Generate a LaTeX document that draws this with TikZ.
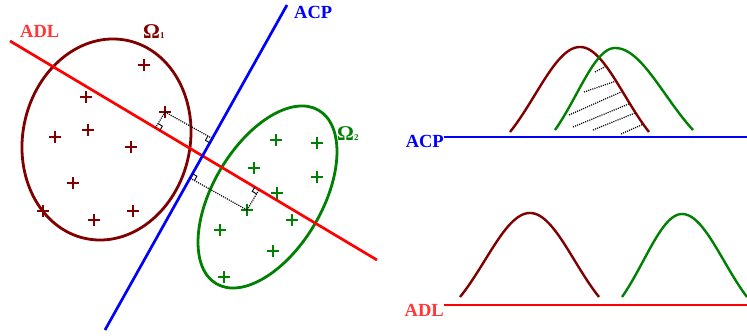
\documentclass[tikz,border=0pt]{standalone}
\usepackage{fontspec}
\setmainfont{Liberation Serif}
\usetikzlibrary{calc}
\definecolor{dkred}{RGB}{128,0,0}
\definecolor{dkgreen}{RGB}{0,128,0}
\definecolor{lblred}{RGB}{255,55,55}
\definecolor{pblue}{RGB}{0,0,255}
\begin{document}
\begin{tikzpicture}[x=1pt,y=-1pt,
  axisline/.style={line width=2.7pt},
  blob/.style={line width=2.8pt},
  bellcurve/.style={line width=2.4pt, line join=round},
  proj/.style={line width=1.2pt, dash pattern=on 1.1pt off 1.1pt},
  hatchline/.style={line width=1.2pt, dash pattern=on 1.1pt off 1.1pt},
  rmark/.style={line width=0.9pt},
  lbl/.style={font=\fontsize{18.5}{18.5}\selectfont\bfseries, inner sep=0pt},
  omlbl/.style={font=\fontsize{21}{21}\selectfont\bfseries, inner sep=0pt},
  plusmark/.style={minimum size=12pt, inner sep=0pt,
    path picture={\draw[line width=2.3pt,#1] (path picture bounding box.north)--(path picture bounding box.south)
      (path picture bounding box.west)--(path picture bounding box.east);}},
  declare function={bell(\ua,\sa,\wa)=(exp(-0.5*((\ua)/(\sa))^2)-exp(-0.5*((\wa)/(\sa))^2))/(1-exp(-0.5*((\wa)/(\sa))^2));}
]
\useasboundingbox (0,0) rectangle (747,336);

% ---------- left part ----------
\draw[blob,dkred,rotate around={78.1:(106.5,139.5)}] (106.5,139.5) ellipse [x radius=101.2pt, y radius=83.7pt];
\draw[blob,dkgreen,rotate around={59.4:(267.5,197)}] (267.5,197) ellipse [x radius=100.7pt, y radius=54.5pt];

\coordinate (adl1) at (10,41);
\coordinate (adl2) at (377,260);
\coordinate (acp1) at (287,5);
\coordinate (acp2) at (105,330);
\draw[axisline,red] (adl1) -- (adl2);
\draw[axisline,pblue] (acp1) -- (acp2);

% plus signs, class 1
\node[plusmark=dkred] (r1) at (144,65) {};
\node[plusmark=dkred] (r2) at (86,97) {};
\node[plusmark=dkred] (r3) at (165,112) {};
\node[plusmark=dkred] (r4) at (88,130) {};
\node[plusmark=dkred] (r5) at (55,137) {};
\node[plusmark=dkred] (r6) at (131,147) {};
\node[plusmark=dkred] (r7) at (73,183) {};
\node[plusmark=dkred] (r8) at (43,211) {};
\node[plusmark=dkred] (r9) at (94,220) {};
\node[plusmark=dkred] (r10) at (133,211) {};
% plus signs, class 2
\node[plusmark=dkgreen] (g1) at (276,140) {};
\node[plusmark=dkgreen] (g2) at (317,143) {};
\node[plusmark=dkgreen] (g3) at (254,168) {};
\node[plusmark=dkgreen] (g4) at (317,177) {};
\node[plusmark=dkgreen] (g5) at (277,193) {};
\node[plusmark=dkgreen] (g6) at (247,210) {};
\node[plusmark=dkgreen] (g7) at (292,220) {};
\node[plusmark=dkgreen] (g8) at (220,230) {};
\node[plusmark=dkgreen] (g9) at (273,251) {};
\node[plusmark=dkgreen] (g10) at (224,277) {};

% projections
\coordinate (fA1) at ($(adl1)!(r3.center)!(adl2)$);
\coordinate (fA2) at ($(acp1)!(r3.center)!(acp2)$);
\coordinate (fB1) at ($(adl1)!(g6.center)!(adl2)$);
\coordinate (fB2) at ($(acp1)!(g6.center)!(acp2)$);
\draw[proj] (r3.center) -- (fA1);
\draw[proj] (r3.center) -- (fA2);
\draw[proj] (g6.center) -- (fB1);
\draw[proj] (g6.center) -- (fB2);
% right-angle marks
\coordinate (mA1a) at ($(fA1)!5pt!(adl2)$);
\coordinate (mA1b) at ($(fA1)!5pt!(r3.center)$);
\draw[rmark] (mA1a) -- ($(mA1a)+(mA1b)-(fA1)$) -- (mA1b);
\coordinate (mA2a) at ($(fA2)!5pt!(acp2)$);
\coordinate (mA2b) at ($(fA2)!5pt!(r3.center)$);
\draw[rmark] (mA2a) -- ($(mA2a)+(mA2b)-(fA2)$) -- (mA2b);
\coordinate (mB1a) at ($(fB1)!5pt!(adl1)$);
\coordinate (mB1b) at ($(fB1)!5pt!(g6.center)$);
\draw[rmark] (mB1a) -- ($(mB1a)+(mB1b)-(fB1)$) -- (mB1b);
\coordinate (mB2a) at ($(fB2)!5pt!(acp1)$);
\coordinate (mB2b) at ($(fB2)!5pt!(g6.center)$);
\draw[rmark] (mB2a) -- ($(mB2a)+(mB2b)-(fB2)$) -- (mB2b);

% labels left
\node[lbl,text=lblred,anchor=base west] (adlL) at (20,38) {ADL};
\node[lbl,text=pblue,anchor=base west] (acpL) at (294,19) {ACP};
\node[omlbl,text=dkred,anchor=base west] (om1) at (143,39) {Ω{\fontsize{9}{9}\selectfont 1}};
\node[omlbl,text=dkgreen,anchor=base west] (om2) at (337,141) {Ω{\fontsize{9}{9}\selectfont 2}};

% ---------- right part ----------
\node[lbl,text=pblue,anchor=base east] (acpR) at (444,148) {ACP};
\node[lbl,text=lblred,anchor=base east] (adlR) at (444,317) {ADL};
\coordinate (acpEnd) at (747,137);
\coordinate (adlEnd) at (747,305);
\draw[axisline,pblue] (acpR.east |- acpEnd) -- (acpEnd);
\draw[axisline,red] (adlR.east |- adlEnd) -- (adlEnd);

% hatching of overlap
\begin{scope}
\clip (505,140) -- plot[domain=510:580,samples=30] (\x,{132-85*bell(\x-580,45,70)})
  -- plot[domain=580:649,samples=30] (\x,{132-85*bell(\x-580,44.4,69)}) -- (652,140) -- cycle;
\draw[hatchline] (595,72) -- (612,63);
\draw[hatchline] (584,92) -- (625,78);
\draw[hatchline] (569,115) -- (630,88);
\draw[hatchline] (573,127) -- (636,101);
\draw[hatchline] (593,130) -- (640,111);
\draw[hatchline] (621,134) -- (646,123);
\end{scope}

% ACP bells
\draw[bellcurve,dkred] plot[domain=510:580,samples=30] (\x,{132-85*bell(\x-580,45,70)})
  -- plot[domain=580:649,samples=30] (\x,{132-85*bell(\x-580,44.4,69)});
\draw[bellcurve,dkgreen] plot[domain=555:615,samples=30] (\x,{130-82*bell(\x-615,38.6,60)})
  -- plot[domain=615:693,samples=30] (\x,{130-82*bell(\x-615,50.2,78)});
% ADL bells
\draw[bellcurve,dkred] plot[domain=460:530,samples=30] (\x,{297-84*bell(\x-530,45,70)})
  -- plot[domain=530:599,samples=30] (\x,{297-84*bell(\x-530,44.4,69)});
\draw[bellcurve,dkgreen] plot[domain=622:682,samples=30] (\x,{297-83*bell(\x-682,38.6,60)})
  -- plot[domain=682:747,samples=30] (\x,{297-83*bell(\x-682,41.8,65)});
\end{tikzpicture}
\end{document}
